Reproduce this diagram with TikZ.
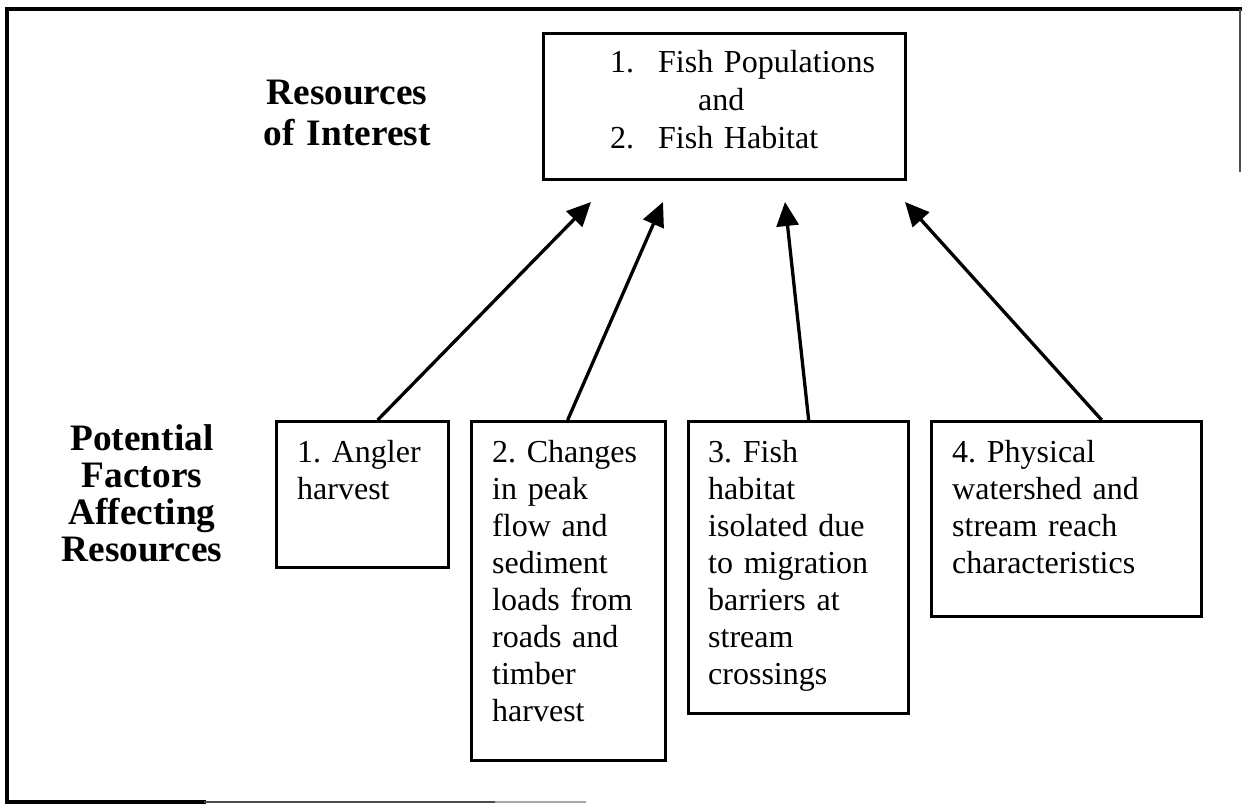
\documentclass[tikz,border=0pt]{standalone}
\usepackage{fontspec}
\setmainfont{Liberation Serif}
\usetikzlibrary{arrows.meta}
\frenchspacing
\begin{document}
\begin{tikzpicture}[x=1pt,y=-1pt,
  boxstyle/.style={draw, line width=3.3pt, rectangle, inner sep=0pt, anchor=north west},
  bodytext/.style={anchor=base west, inner sep=0pt, align=left, font=\fontsize{32}{37}\selectfont\frenchspacing},
  headtext/.style={anchor=base, inner sep=0pt, align=center, text width=240pt},
  link/.style={line width=3.3pt, -{Triangle[length=24pt,width=22pt]}},
  frameline/.style={line width=3.3pt, line cap=rect}
]
\useasboundingbox (0,0) rectangle (1242,806);
% outer frame (partly faded as in the scan)
\draw[frameline] (7,802) -- (7,9) -- (1240,9);
\draw[line width=1.5pt, black!70] (1240,9) -- (1240,172);
\draw[frameline] (7,802) -- (204,802);
\draw[line width=2pt, black!70] (204,802) -- (495,802);
\draw[line width=2pt, black!35] (495,802) -- (586,802);

% headings
\node[headtext, font=\fontsize{37.3}{41}\selectfont\bfseries] (roi) at (347,104) {Resources\\of Interest};
\node[headtext, font=\fontsize{37.3}{37.3}\selectfont\bfseries] (pfar) at (142,450) {Potential\\Factors\\Affecting\\Resources};

% top box
\node[boxstyle, minimum width=362pt, minimum height=146pt] (top) at (542,32) {};
\node[bodytext, text width=290pt, font=\fontsize{32}{38}\selectfont] (toptext) at (610,72)
  {\makebox[48pt][l]{1.}Fish Populations\\\hspace*{88pt}and\\\makebox[48pt][l]{2.}Fish Habitat};

% factor boxes
\node[boxstyle, minimum width=172pt, minimum height=146pt] (f1) at (275,420) {};
\node[bodytext, text width=150pt] (f1t) at (297,462) {1. Angler\\harvest};

\node[boxstyle, minimum width=194pt, minimum height=339pt] (f2) at (470,420) {};
\node[bodytext, text width=170pt] (f2t) at (492,462) {2. Changes\\in peak\\flow and\\sediment\\loads from\\roads and\\timber\\harvest};

\node[boxstyle, minimum width=220pt, minimum height=292pt] (f3) at (687,420) {};
\node[bodytext, text width=195pt] (f3t) at (708,462) {3. Fish\\habitat\\isolated due\\to migration\\barriers at\\stream\\crossings};

\node[boxstyle, minimum width=270pt, minimum height=195pt] (f4) at (930,420) {};
\node[bodytext, text width=245pt] (f4t) at (952,462) {4. Physical\\watershed and\\stream reach\\characteristics};

% arrow tips below the top box
\coordinate (t1) at (591,202);
\coordinate (t2) at (663,202);
\coordinate (t3) at (785,202);
\coordinate (t4) at (905,202);

\draw[link] ([xshift=15pt]f1.north) -- (t1);
\draw[link] ([xshift=-1pt]f2.north) -- (t2);
\draw[link] ([xshift=10pt]f3.north) -- (t3);
\draw[link] ([xshift=35pt]f4.north) -- (t4);
\end{tikzpicture}
\end{document}
